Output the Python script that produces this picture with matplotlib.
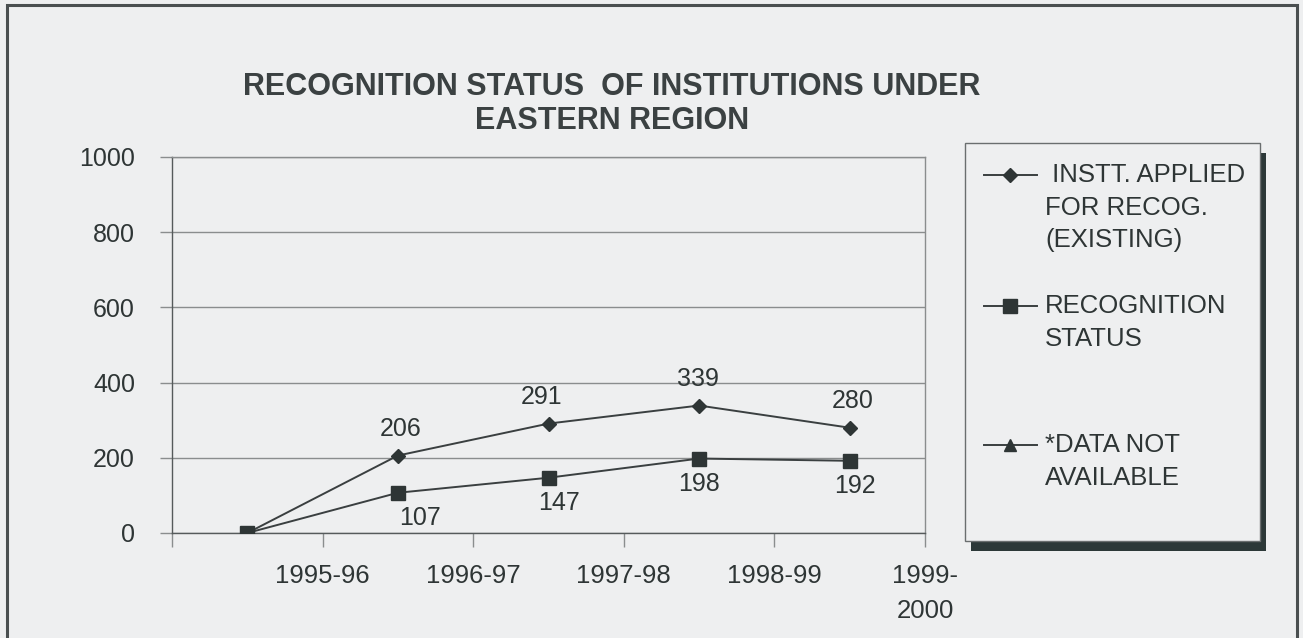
import matplotlib
matplotlib.use("Agg")
import matplotlib.pyplot as plt
from matplotlib.patches import Rectangle
from matplotlib.lines import Line2D
import numpy as np

# ---- data ----
categories = ["1995-96", "1996-97", "1997-98", "1998-99", "1999-\n2000"]
applied = [0, 206, 291, 339, 280]
recognition = [0, 107, 147, 198, 192]
data_not_available = [0, np.nan, np.nan, np.nan, np.nan]
series_names = [" INSTT. APPLIED\nFOR RECOG.\n(EXISTING)", "RECOGNITION\nSTATUS", "*DATA NOT\nAVAILABLE"]
y_ticks = [0, 200, 400, 600, 800, 1000]
title = "RECOGNITION STATUS  OF INSTITUTIONS UNDER\nEASTERN REGION"

W, H = 1303, 638
BG = "#eeeff0"
INK = "#2e3535"
LINE = "#3a3f40"
GRID = "#8a8d8e"
FONT = "Liberation Sans"
PX = 72 / 100  # points per pixel

plt.rcParams["font.family"] = [FONT, "DejaVu Sans"]

fig = plt.figure(figsize=(W / 100, H / 100), dpi=100, facecolor=BG)

def fx(x):
    return x / W

def fy(y):
    return 1 - y / H

# plot area (pixel coords of reference)
L, R, T, B = 172, 925, 157, 533
ax = fig.add_axes([fx(L), fy(B), fx(R) - fx(L), fy(T) - fy(B)])
ax.set_facecolor(BG)

n = len(categories)
xpos = np.arange(n) + 0.5
ax.plot(xpos, applied, color=LINE, lw=1.4, marker="D", ms=7.5, mfc=INK, mec=INK, zorder=3)
ax.plot(xpos, recognition, color=LINE, lw=1.4, marker="s", ms=9.5, mfc=INK, mec=INK, zorder=4)
ax.plot(xpos, data_not_available, color=LINE, lw=1.4, marker="^", ms=9, mfc=INK, mec=INK, zorder=2)

ax.set_xlim(0, n)
ax.set_ylim(0, 1000)
ax.set_yticks(y_ticks)
ax.set_yticklabels([str(v) for v in y_ticks])
ax.set_xticks(np.arange(0, n + 1))
ax.set_xticklabels([""] + categories)
ax.tick_params(axis="y", direction="out", length=12 * PX, width=1, color=GRID, pad=25 * PX,
               labelsize=18, labelcolor=INK)
ax.tick_params(axis="x", direction="out", length=14 * PX, width=1, color=GRID, pad=17 * PX,
               labelsize=18.5, labelcolor=INK)
for lab in ax.get_xticklabels():
    lab.set_linespacing(1.6)
ax.grid(axis="y", color=GRID, lw=1)
ax.set_axisbelow(True)
for side, sp in ax.spines.items():
    sp.set_color(GRID)
    sp.set_linewidth(1)
ax.spines["bottom"].set_color("#555a5b")
ax.spines["left"].set_color("#555a5b")

# data labels (pixel nudges mimic the original label placement)
above_dx = [3, -7, -1, 3]
below_dx = [22, 11, 0, 5]
for x, v, dx in zip(xpos[1:], applied[1:], above_dx):
    ax.annotate(str(v), (x, v), xytext=(dx * PX, 27 * PX), textcoords="offset points",
                ha="center", va="center", fontsize=18, color=INK)
for x, v, dx in zip(xpos[1:], recognition[1:], below_dx):
    ax.annotate(str(v), (x, v), xytext=(dx * PX, -25 * PX), textcoords="offset points",
                ha="center", va="center", fontsize=18, color=INK)

# title
fig.text(fx(612), fy(104), title, ha="center", va="center", fontsize=22,
         fontweight="bold", color="#3b4142", linespacing=1.2)

# figure frame
fig.add_artist(Rectangle((fx(7), fy(H + 20)), fx(1297) - fx(7), fy(5) - fy(H + 20),
                         transform=fig.transFigure, fill=False, ec="#4a4f50", lw=2.2))

# legend box with shadow
bl, bt, br, bb = 965, 143, 1260, 541
fig.add_artist(Rectangle((fx(bl + 6), fy(bb + 10)), fx(br) - fx(bl), fy(bt) - fy(bb),
                         transform=fig.transFigure, fc="#2c3838", ec="none"))
fig.add_artist(Rectangle((fx(bl), fy(bb)), fx(br) - fx(bl), fy(bt) - fy(bb),
                         transform=fig.transFigure, fc=BG, ec="#6a6e6f", lw=1))
markers = [("D", 7.5), ("s", 9.5), ("^", 9)]
entry_y = [175, 306, 445]
for (m, ms), name, yy in zip(markers, series_names, entry_y):
    fig.add_artist(Line2D([fx(984), fx(1037)], [fy(yy), fy(yy)], transform=fig.transFigure,
                          color=LINE, lw=1.4))
    fig.add_artist(Line2D([fx(1010)], [fy(yy)], transform=fig.transFigure, marker=m, ms=ms,
                          mfc=INK, mec=INK, lw=0))
    fig.text(fx(1045), fy(yy - 12), name, ha="left", va="top", fontsize=18.5, color=INK,
             linespacing=1.45)

fig.savefig("out.png", dpi=100, facecolor=BG)
